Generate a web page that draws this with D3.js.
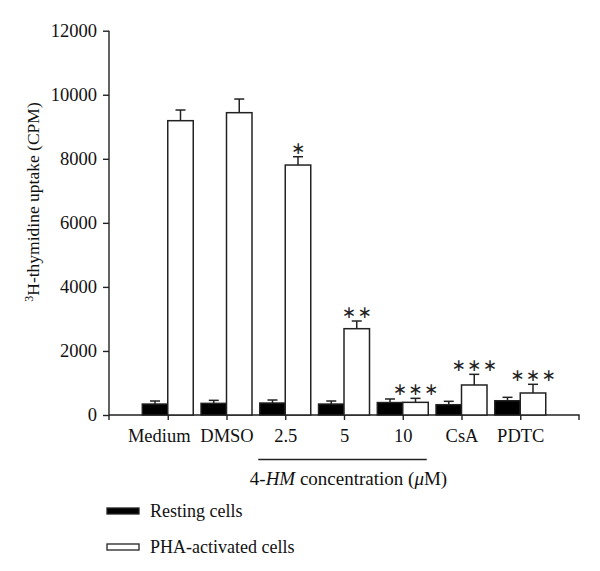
<!DOCTYPE html>
<html><head><meta charset="utf-8">
<script src="https://d3js.org/d3.v7.min.js"></script>
<style>body{margin:0;background:#fff}svg{display:block}</style>
</head><body>
<script>
const categories = ["Medium","DMSO","2.5","5","10","CsA","PDTC"];
const restingValues = [343,365,375,343,390,323,447];
const restingErrors = [94,93,93,94,110,104,105];
const phaValues = [9190,9440,7805,2695,395,937,687];
const phaErrors = [333,426,260,240,125,333,271];
const significance = ["","","*","**","***","***","***"];
const yTicks = [0,2000,4000,6000,8000,10000,12000];
const seriesNames = ["Resting cells","PHA-activated cells"];

const W=600,H=571;
const font="'Liberation Serif','Times New Roman',serif";
const ink="#222";
const svg=d3.select("body").append("svg").attr("width",W).attr("height",H)
  .style("font-family",font);

const x=d3.scalePoint().domain(categories).range([109,579]).padding(1);
const y=d3.scaleLinear().domain([0,12000]).range([415,30.7]);
const bw=25.5;

// y axis
const ya=svg.append("g").attr("transform","translate(109,0)")
  .call(d3.axisLeft(y).tickValues(yTicks).tickSize(6).tickPadding(6).tickFormat(d3.format("d")));
ya.select(".domain").attr("d",`M0,${y(12000)}V${y(0)+5}`).attr("stroke",ink).attr("stroke-width",1.4);
ya.selectAll(".tick line").attr("stroke",ink).attr("stroke-width",1.4);
ya.selectAll(".tick text").attr("font-family",font).attr("font-size",18.5).attr("fill","#111");

// x axis
const xa=svg.append("g").attr("transform","translate(0,415)")
  .call(d3.axisBottom(x).tickSize(5).tickPadding(9));
xa.select(".domain").attr("d","M109,0H579V5").attr("stroke",ink).attr("stroke-width",1.4);
xa.selectAll(".tick line").attr("stroke",ink).attr("stroke-width",1.4);
xa.selectAll(".tick text").attr("font-family",font).attr("font-size",18.5).attr("fill","#111")
  .attr("dx",(d,i)=>i===0?-9:0);

const data=categories.map((c,i)=>({c,i}));
const g=svg.append("g");
// error bars (upper only)
function errbar(cx,v,e){
  g.append("line").attr("x1",cx).attr("x2",cx).attr("y1",y(v)).attr("y2",y(v+e)).attr("stroke",ink).attr("stroke-width",1.5);
  g.append("line").attr("x1",cx-5).attr("x2",cx+5).attr("y1",y(v+e)).attr("y2",y(v+e)).attr("stroke",ink).attr("stroke-width",1.5);
}
data.forEach(d=>{
  const cx=x(d.c);
  errbar(cx-bw/2,restingValues[d.i],restingErrors[d.i]);
  errbar(cx+bw/2,phaValues[d.i],phaErrors[d.i]);
});
g.selectAll("rect.rest").data(data).join("rect").attr("class","rest")
  .attr("x",d=>x(d.c)-bw).attr("width",bw)
  .attr("y",d=>y(restingValues[d.i])).attr("height",d=>y(0)-y(restingValues[d.i]))
  .attr("fill","#000").attr("stroke",ink).attr("stroke-width",1.4);
g.selectAll("rect.pha").data(data).join("rect").attr("class","pha")
  .attr("x",d=>x(d.c)).attr("width",bw)
  .attr("y",d=>y(phaValues[d.i])).attr("height",d=>y(0)-y(phaValues[d.i]))
  .attr("fill","#fff").attr("stroke",ink).attr("stroke-width",1.5);

// significance stars
g.selectAll("text.sig").data(data.filter(d=>significance[d.i])).join("text").attr("class","sig")
  .attr("x",d=>x(d.c)+bw/2+0.75).attr("y",d=>y(phaValues[d.i]+phaErrors[d.i])-3)
  .attr("text-anchor","middle").attr("font-size",17).attr("letter-spacing",1.5).attr("fill","#222")
  .attr("font-family","'DejaVu Sans',sans-serif")
  .text(d=>significance[d.i].split("").map(()=>"\u2217").join(""));

// bracket line under concentrations
svg.append("line").attr("x1",x("2.5")-27).attr("x2",x("10")+24).attr("y1",459.5).attr("y2",459.5)
  .attr("stroke",ink).attr("stroke-width",1.5);
const xl=svg.append("text").attr("x",348.5).attr("y",485).attr("text-anchor","middle")
  .attr("font-size",19).attr("fill","#111");
xl.append("tspan").text("4-");
xl.append("tspan").attr("font-style","italic").text("HM");
xl.append("tspan").text(" concentration (");
xl.append("tspan").attr("font-style","italic").text("\u03bc");
xl.append("tspan").text("M)");

// y label
const yl=svg.append("text").attr("transform","translate(39,202) rotate(-90)").attr("text-anchor","middle")
  .attr("font-size",17.5).attr("fill","#111");
yl.append("tspan").attr("font-size",12).attr("dy",-6).text("3");
yl.append("tspan").attr("dy",6).text("H-thymidine uptake (CPM)");

// legend
const lg=svg.append("g");
const ly=[511,547];
seriesNames.forEach((n,i)=>{
  lg.append("rect").attr("x",107).attr("y",ly[i]-3).attr("width",32).attr("height",6)
    .attr("fill",i===0?"#000":"#fff").attr("stroke",ink).attr("stroke-width",1.3);
  lg.append("text").attr("x",150).attr("y",ly[i]+5.5).attr("font-size",18).attr("fill","#111").text(n);
});
</script>
</body></html>
